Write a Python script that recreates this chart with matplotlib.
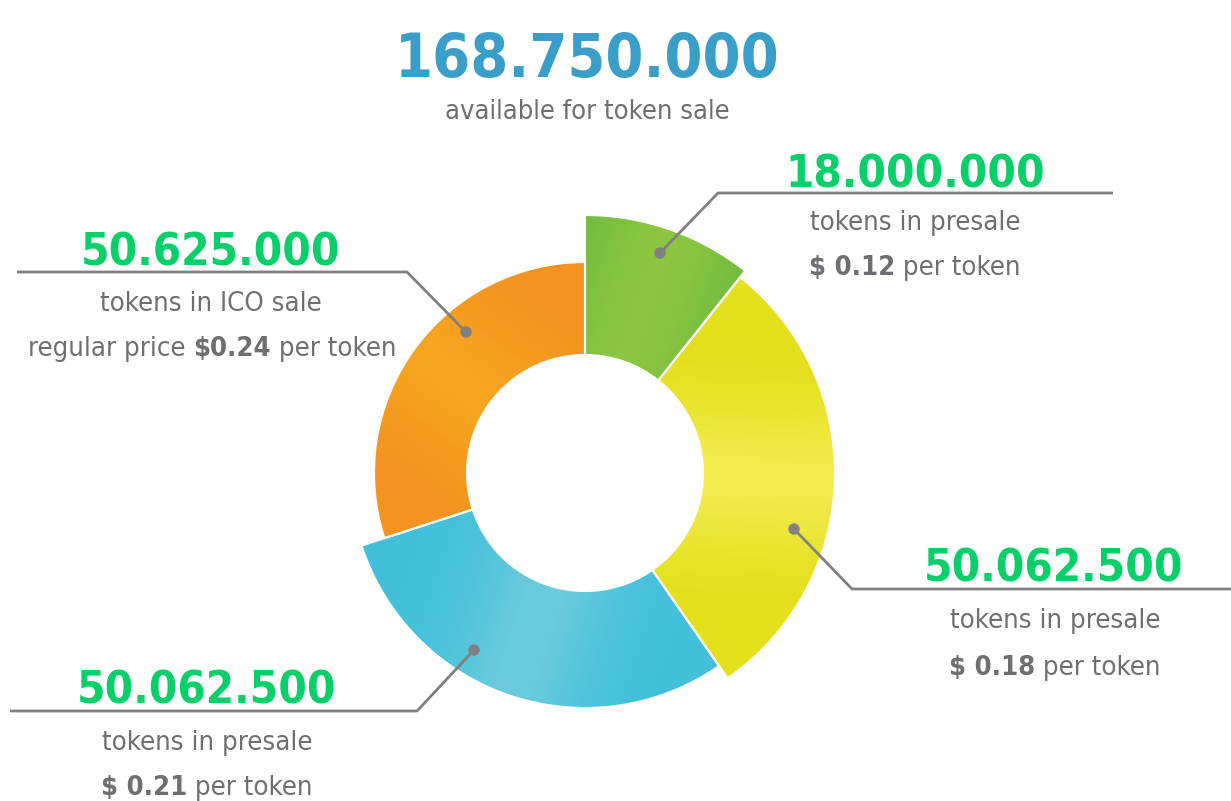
import numpy as np
import matplotlib
matplotlib.use('Agg')
import matplotlib.pyplot as plt
from matplotlib import font_manager as fm
from matplotlib.patches import Wedge, Circle
from matplotlib.colors import to_rgb

# condensed face if there is one, otherwise Roboto (narrower than DejaVu)
probe = fm.findfont(fm.FontProperties(family='DejaVu Sans', stretch='condensed'))
if 'Condensed' in probe:
    plt.rcParams['font.family'] = ['DejaVu Sans', 'DejaVu Sans']
    plt.rcParams['font.stretch'] = 'condensed'
else:
    plt.rcParams['font.family'] = ['Roboto', 'DejaVu Sans']

# data
labels = ['presale 1', 'presale 2', 'presale 3', 'ICO sale']
values = [18000000, 50062500, 50062500, 50625000]
amounts = ['18.000.000', '50.062.500', '50.062.500', '50.625.000']
prices = ['$ 0.12', '$ 0.18', '$ 0.21', '$0.24']
total_label = '168.750.000'

# look
radii = [258, 250, 235, 211]
inner = 118
edge_cols = ['#6cba40', '#e4e01c', '#42c0dc', '#f49320']
mid_cols = ['#8dc640', '#f2ec50', '#6bcbdb', '#f7a620']
W, H = 1231, 801
cx, cy = 585, 473
GREEN = '#07d06a'
GRAY = '#6e6f73'
LINE = '#808080'

fig = plt.figure(figsize=(W / 100, H / 100), dpi=100)
ax = fig.add_axes([0, 0, 1, 1])
ax.set_xlim(0, W)
ax.set_ylim(H, 0)
ax.axis('off')

# donut, clockwise from 12 o'clock (y axis is flipped)
fracs = np.array(values) / sum(values)
start = -90.0
for i, f in enumerate(fracs):
    t1, t2 = start, start + f * 360
    start = t2
    r = radii[i]
    w = Wedge((cx, cy), r, t1, t2, width=r - inner, facecolor='none',
              edgecolor='white', lw=1.5, zorder=3)
    ax.add_patch(w)
    # soft radial highlight through the middle of the slice
    xs = np.linspace(cx - r, cx + r, 400)
    ys = np.linspace(cy - r, cy + r, 400)
    X, Y = np.meshgrid(xs, ys)
    tm = np.radians((t1 + t2) / 2)
    d = np.abs(-(X - cx) * np.sin(tm) + (Y - cy) * np.cos(tm))
    m = np.exp(-(d / 70.0) ** 2)
    c0 = np.array(to_rgb(edge_cols[i]))
    c1 = np.array(to_rgb(mid_cols[i]))
    img = c0 + (c1 - c0) * m[..., None]
    im = ax.imshow(img, extent=(cx - r, cx + r, cy - r, cy + r), origin='lower',
                   zorder=2, interpolation='bilinear')
    im.set_clip_path(w)

ax.set_xlim(0, W)
ax.set_ylim(H, 0)

renderer = fig.canvas.get_renderer()


def fit_size(s, target, weight='normal'):
    # font size that makes s about target pixels wide
    t = ax.text(0, 0, s, fontsize=20, fontweight=weight)
    wd = t.get_window_extent(renderer=renderer).width
    t.remove()
    return 20 * target / wd


def centered_runs(x, y, parts, size, color):
    objs, widths = [], []
    for s, wt in parts:
        t = ax.text(0, y, s, fontsize=size, fontweight=wt, color=color,
                    ha='left', va='baseline', zorder=5)
        widths.append(t.get_window_extent(renderer=renderer).width)
        objs.append(t)
    cur = x - sum(widths) / 2
    for t, wd in zip(objs, widths):
        t.set_x(cur)
        cur += wd


def leader(pts):
    xs, ys = zip(*pts)
    ax.plot(xs, ys, color=LINE, lw=2, zorder=4, solid_capstyle='butt')
    ax.add_patch(Circle(pts[0], 5, color=LINE, zorder=4))


# the original face is taller and narrower, so go a bit wider for height
title_size = fit_size(total_label, 335, 'bold') * 1.15
sub_size = fit_size('available for token sale', 268) * 1.06
num_size = fit_size(amounts[0], 236, 'bold') * 1.1
txt_size = fit_size('tokens in presale', 198) * 1.06

# header
ax.text(587, 77, total_label, fontsize=title_size, fontweight='bold', color='#3a9fc8',
        ha='center', va='baseline')
ax.text(587, 119, 'available for token sale', fontsize=sub_size, color=GRAY,
        ha='center', va='baseline')

# green slice
leader([(660, 253), (718, 193), (1113, 193)])
ax.text(915, 187, amounts[0], fontsize=num_size, fontweight='bold', color=GREEN,
        ha='center', va='baseline')
centered_runs(915, 230, [('tokens in presale', 'normal')], txt_size, GRAY)
centered_runs(915, 275, [(prices[0], 'bold'), (' per token', 'normal')], txt_size, GRAY)

# yellow slice
leader([(794, 529), (852, 589), (1231, 589)])
ax.text(1054, 582, amounts[1], fontsize=num_size, fontweight='bold', color=GREEN,
        ha='center', va='baseline')
centered_runs(1055, 628, [('tokens in presale', 'normal')], txt_size, GRAY)
centered_runs(1055, 675, [(prices[1], 'bold'), (' per token', 'normal')], txt_size, GRAY)

# blue slice
leader([(474, 650), (417, 711), (10, 711)])
ax.text(207, 703, amounts[2], fontsize=num_size, fontweight='bold', color=GREEN,
        ha='center', va='baseline')
centered_runs(207, 750, [('tokens in presale', 'normal')], txt_size, GRAY)
centered_runs(207, 795, [(prices[2], 'bold'), (' per token', 'normal')], txt_size, GRAY)

# orange slice
leader([(466, 332), (407, 272), (17, 272)])
ax.text(211, 265, amounts[3], fontsize=num_size, fontweight='bold', color=GREEN,
        ha='center', va='baseline')
centered_runs(211, 311, [('tokens in ICO sale', 'normal')], txt_size, GRAY)
centered_runs(212, 356, [('regular price ', 'normal'), (prices[3], 'bold'),
                         (' per token', 'normal')], txt_size, GRAY)

fig.savefig('out.png', dpi=100, facecolor='white')
